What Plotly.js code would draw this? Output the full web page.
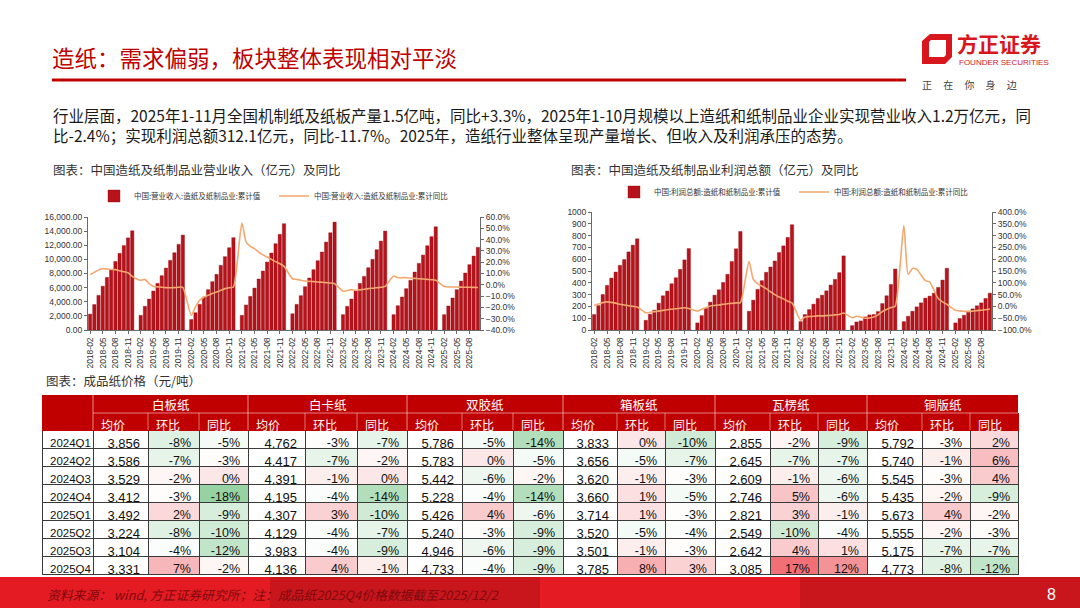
<!DOCTYPE html>
<html><head><meta charset="utf-8">
<script src="https://cdn.plot.ly/plotly-3.0.1.min.js"></script>
<style>html,body{margin:0;padding:0;background:#fff;}#chart{width:1080px;height:608px;}</style>
</head><body><div id="chart"></div>
<script>
// ---------------- DATA ----------------
const years = [2018, 2019, 2020, 2021, 2022, 2023, 2024, 2025];
// 营业收入 累计值（亿元），每年 2月..12月
const revenue2018 = [2250, 3600, 4900, 6200, 7450, 8550, 9700, 10850, 11950, 13050, 14050];
const revenue2019 = [2075, 3350, 4390, 5520, 6600, 7690, 8770, 9860, 10940, 12120, 13440];
const revenue2020 = [1480, 2450, 3630, 4670, 5710, 6840, 7880, 9150, 10380, 11650, 13070];
const revenue2021 = [2075, 3540, 4760, 5940, 7220, 8350, 9620, 10900, 12220, 13540, 15050];
const revenue2022 = [2300, 3630, 4860, 6130, 7360, 8540, 9810, 11040, 12450, 13770, 15280];
const revenue2023 = [2170, 3350, 4390, 5570, 6600, 7590, 8820, 10000, 11370, 12590, 14010];
const revenue2024 = [2170, 3440, 4670, 5850, 7030, 8210, 9430, 10610, 11930, 13210, 14620];
const revenue2025 = [2170, 3400, 4530, 5710, 6930, 8070, 9250, 10470, 11700];
// 营业收入 累计同比（%）
const revenueYoY2018 = [9.0, 11.0, 13.0, 14.3, 14.0, 13.6, 13.4, 12.5, 11.5, 10.7, 7.5];
const revenueYoY2019 = [4.0, 4.8, 1.0, -1.4, -1.8, -2.2, -2.5, -2.6, -2.5, -2.2, -2.2];
const revenueYoY2020 = [-27.0, -19.6, -13.7, -10.8, -9.3, -7.8, -6.4, -4.9, -3.4, -2.6, -2.0];
const revenueYoY2021 = [54.7, 37.9, 34.0, 32.0, 29.0, 26.5, 24.6, 22.5, 20.5, 18.7, 16.3];
const revenueYoY2022 = [5.4, 4.8, 4.0, 3.4, 3.0, 2.8, 2.5, 2.2, 1.9, 1.6, 1.0];
const revenueYoY2023 = [-5.7, -5.0, -4.3, -5.0, -4.5, -4.0, -3.4, -3.0, -2.6, -2.2, -1.4];
const revenueYoY2024 = [7.8, 6.3, 6.3, 6.3, 6.0, 5.7, 5.4, 5.1, 4.8, 4.5, 4.0];
const revenueYoY2025 = [-1.4, -1.8, -2.0, -2.0, -2.1, -2.2, -2.2, -2.3, -2.4];
// 利润总额 累计值（亿元）
const profit2018 = [131, 207, 301, 378, 440, 491, 548, 597, 662, 719, 773];
const profit2019 = [82, 134, 168, 227, 290, 330, 392, 443, 514, 594, 690];
const profit2020 = [60, 122, 182, 236, 295, 341, 403, 472, 580, 688, 835];
const profit2021 = [159, 253, 344, 418, 489, 534, 585, 656, 713, 784, 892];
const profit2022 = [71, 131, 173, 219, 267, 295, 332, 381, 429, 486, 628];
const profit2023 = [37, 68, 77, 111, 128, 131, 156, 224, 290, 386, 517];
const profit2024 = [71, 116, 159, 196, 230, 270, 287, 312, 361, 423, 523];
const profit2025 = [60, 97, 125, 151, 179, 205, 230, 267, 312];
// 利润总额 累计同比（%）
const profitYoY2018 = [4, 10, 16, 19, 17, 14, 9, 6, 3, 0, -3];
const profitYoY2019 = [-27, -25, -22, -20, -17, -14, -12, -10, -8, -6, -9];
const profitYoY2020 = [-20, -12, -5, 2, 4, 6, 9, 11, 13, 15, 16];
const profitYoY2021 = [190, 115, 97, 86, 75, 62, 50, 40, 32, 22, 15];
const profitYoY2022 = [-59, -45, -43, -42, -40, -40, -39, -38, -36, -34, -28];
const profitYoY2023 = [-48, -42, -45, -50, -49, -45, -36, -22, -13, -5, 1];
const profitYoY2024 = [343, 136, 161, 158, 133, 109, 104, 69, 33, 19, 9];
const profitYoY2025 = [-16, -19, -21, -21, -20, -18, -16, -14, -11.7];

// 成品纸价格表
const quarters = ['2024Q1','2024Q2','2024Q3','2024Q4','2025Q1','2025Q2','2025Q3','2025Q4'];
const paperNames = ['白板纸','白卡纸','双胶纸','箱板纸','瓦楞纸','铜版纸'];
const subHeads = ['均价','环比','同比'];
const whiteboardPrice = [3856, 3586, 3529, 3412, 3492, 3224, 3104, 3331];
const whiteboardQoQ   = [-8, -7, -2, -3, 2, -8, -4, 7];
const whiteboardYoY   = [-5, -3, 0, -18, -9, -10, -12, -2];
const ivoryPrice = [4762, 4417, 4391, 4195, 4307, 4129, 3983, 4136];
const ivoryQoQ   = [-3, -7, -1, -4, 3, -4, -4, 4];
const ivoryYoY   = [-7, -2, 0, -14, -10, -7, -9, -1];
const offsetPrice = [5786, 5783, 5442, 5228, 5426, 5240, 4946, 4733];
const offsetQoQ   = [-5, 0, -6, -4, 4, -3, -6, -4];
const offsetYoY   = [-14, -5, -2, -14, -6, -9, -9, -9];
const containerPrice = [3833, 3656, 3620, 3660, 3714, 3520, 3501, 3785];
const containerQoQ   = [0, -5, -1, 1, 1, -5, -1, 8];
const containerYoY   = [-10, -7, -3, -5, -3, -4, -3, 3];
const corrugatedPrice = [2855, 2645, 2609, 2746, 2821, 2549, 2642, 3085];
const corrugatedQoQ   = [-2, -7, -1, 5, 3, -10, 4, 17];
const corrugatedYoY   = [-9, -7, -6, -6, -1, -4, 1, 12];
const coatedPrice = [5792, 5740, 5545, 5435, 5673, 5555, 5175, 4773];
const coatedQoQ   = [-3, -1, -3, -2, 4, -2, -7, -8];
const coatedYoY   = [2, 6, 4, -9, -2, -3, -7, -12];

// ---------------- HELPERS ----------------
const W = 1080, H = 608;
const px = x => x / W, py = y => 1 - y / H;
const CJK = '"Noto Sans CJK SC", "Noto Sans", sans-serif';
const LAT = '"Liberation Sans", Arial, sans-serif';
const RED = '#C00000';

function buildSeries(yearArrays) {
  const cats = [], vals = [];
  years.forEach((yr, yi) => {
    for (let m = 1; m <= 12; m++) {
      if (yr === 2018 && m === 1) continue;
      if (yr === 2025 && m > 10) break;
      cats.push(yr + '-' + String(m).padStart(2, '0'));
      vals.push(m === 1 ? null : (yearArrays[yi][m - 2] ?? null));
    }
  });
  return {cats, vals};
}
const rev = buildSeries([revenue2018, revenue2019, revenue2020, revenue2021, revenue2022, revenue2023, revenue2024, revenue2025]);
const revY = buildSeries([revenueYoY2018, revenueYoY2019, revenueYoY2020, revenueYoY2021, revenueYoY2022, revenueYoY2023, revenueYoY2024, revenueYoY2025]);
const pro = buildSeries([profit2018, profit2019, profit2020, profit2021, profit2022, profit2023, profit2024, profit2025]);
const proY = buildSeries([profitYoY2018, profitYoY2019, profitYoY2020, profitYoY2021, profitYoY2022, profitYoY2023, profitYoY2024, profitYoY2025]);
const cats = rev.cats;
const tickCats = cats.filter((c, i) => i % 3 === 0);

const BAR = '#B8121B', LINE = '#F2A86E';
const traces = [
  {type:'bar', x:cats, y:rev.vals, name:'中国:营业收入:造纸及纸制品业:累计值', marker:{color:BAR, line:{color:'#8E0A10', width:0.4}}, xaxis:'x', yaxis:'y', legend:'legend'},
  {type:'scatter', mode:'lines', x:cats, y:revY.vals, name:'中国:营业收入:造纸及纸制品业:累计同比', connectgaps:true, line:{color:LINE, width:1.6, shape:'spline', smoothing:0.6}, xaxis:'x', yaxis:'y2', legend:'legend'},
  {type:'bar', x:cats, y:pro.vals, name:'中国:利润总额:造纸和纸制品业:累计值', marker:{color:BAR, line:{color:'#8E0A10', width:0.4}}, xaxis:'x2', yaxis:'y3', legend:'legend2'},
  {type:'scatter', mode:'lines', x:cats, y:proY.vals, name:'中国:利润总额:造纸和纸制品业:累计同比', connectgaps:true, line:{color:LINE, width:1.6, shape:'spline', smoothing:0.6}, xaxis:'x2', yaxis:'y4', legend:'legend2'}
];

// ---------------- TABLE ----------------
const priceCols = [whiteboardPrice, ivoryPrice, offsetPrice, containerPrice, corrugatedPrice, coatedPrice];
const qoqCols = [whiteboardQoQ, ivoryQoQ, offsetQoQ, containerQoQ, corrugatedQoQ, coatedQoQ];
const yoyCols = [whiteboardYoY, ivoryYoY, offsetYoY, containerYoY, corrugatedYoY, coatedYoY];
const allPct = [].concat(...qoqCols, ...yoyCols).slice().sort((a, b) => a - b);
const midV = (allPct[allPct.length / 2 - 1] + allPct[allPct.length / 2]) / 2;
const minV = allPct[0], maxV = allPct[allPct.length - 1];
function mix(c1, c2, t) {
  t = Math.max(0, Math.min(1, t));
  return 'rgb(' + c1.map((v, i) => Math.round(v + (c2[i] - v) * t)).join(',') + ')';
}
const WHITE = [255,255,255], GREEN = [150,210,162], PINK = [240,112,118];
function heat(v) {
  if (v >= midV) return mix(WHITE, PINK, (v - midV) / (maxV - midV));
  return mix(WHITE, GREEN, (midV - v) / (midV - minV));
}
const fmtPrice = v => v.toLocaleString('en-US');
const fmtPct = v => v + '%';

const colW = [51, 55,51,49, 57,52,50, 55,51,50, 54,48,50, 55,48,49, 55,48,48];
const tblX0 = 42, tblX1 = 1018;
const colScale = (tblX1 - tblX0) / colW.reduce((a, b) => a + b, 0);
const colEdges = [tblX0];
colW.forEach(w => colEdges.push(colEdges[colEdges.length - 1] + w * colScale));

const cellVals = [quarters], cellFill = [quarters.map(() => '#fff')], cellAlign = ['left'];
const cellSizes = [11.5];
const headVals = [''];
paperNames.forEach((n, k) => {
  cellVals.push(priceCols[k].map(fmtPrice), qoqCols[k].map(fmtPct), yoyCols[k].map(fmtPct));
  cellFill.push(quarters.map(() => '#fff'), qoqCols[k].map(heat), yoyCols[k].map(heat));
  cellAlign.push('right', 'right', 'right');
  cellSizes.push(13, 12.5, 12.5);
  headVals.push(...subHeads);
});
traces.push({
  type:'table',
  domain:{x:[px(tblX0), px(tblX1)], y:[py(576), py(413)]},
  columnwidth: colW,
  header:{values: headVals, fill:{color:RED}, line:{color:RED, width:1}, align:'left', height:17,
          font:{family:CJK, size:12, color:'#ffffff'}},
  cells:{values: cellVals, fill:{color: cellFill}, line:{color:'#3a3a3a', width:1}, align: cellAlign, height:18,
         font:{family:LAT, size:cellSizes, color:'#111'}}
});

// ---------------- LAYOUT DECOR ----------------
const shapes = [], annotations = [];
function rect(x0, y0, x1, y1, color) {
  shapes.push({type:'rect', xref:'paper', yref:'paper', x0:px(x0), x1:px(x1), y0:py(y1), y1:py(y0), fillcolor:color, line:{width:0}});
}
function hline(x0, x1, y, color, w) {
  shapes.push({type:'line', xref:'paper', yref:'paper', x0:px(x0), x1:px(x1), y0:py(y), y1:py(y), line:{color, width:w}});
}
function vline(x, y0, y1, color, w) {
  shapes.push({type:'line', xref:'paper', yref:'paper', x0:px(x), x1:px(x), y0:py(y0), y1:py(y1), line:{color, width:w}});
}
function text(t, x, y, size, color, opts = {}) {
  annotations.push(Object.assign({xref:'paper', yref:'paper', x:px(x), y:py(y), text:t, showarrow:false,
    xanchor:'left', yanchor:'middle', font:{family:CJK, size, color}}, opts));
}
function pathPts(pts) {
  return 'M' + pts.map(p => px(p[0]) + ',' + py(p[1])).join('L') + 'Z';
}

// title + rule
text('造纸：需求偏弱，板块整体表现相对平淡', 50, 57, 22.5, RED);
hline(52, 906, 80, RED, 3);
// logo
shapes.push({type:'path', xref:'paper', yref:'paper', fillcolor:'#D7161E', line:{width:0}, fillrule:'evenodd',
  path: pathPts([[930,34],[952,34],[952,57],[945,64],[922,64],[922,41]]) + ' ' + pathPts([[929,42],[931,40],[946,40],[946,55],[944,57],[929,57]])});
text('方正证券', 955, 43, 21, '#D7161E', {font:{family:CJK, size:21, color:'#D7161E', weight:'bold'}});
text('FOUNDER SECURITIES', 957, 62, 8, '#D7161E', {font:{family:LAT, size:8, color:'#D7161E'}});
text('正&nbsp;&nbsp;&nbsp;&nbsp;&nbsp;在&nbsp;&nbsp;&nbsp;&nbsp;&nbsp;你&nbsp;&nbsp;&nbsp;&nbsp;&nbsp;身&nbsp;&nbsp;&nbsp;&nbsp;&nbsp;边', 920, 85, 10, '#444');

// paragraph
text('行业层面，2025年1-11月全国机制纸及纸板产量1.5亿吨，同比+3.3%，2025年1-10月规模以上造纸和纸制品业企业实现营业收入1.2万亿元，同', 51, 115, 15.5, '#1a1a1a');
text('比-2.4%；实现利润总额312.1亿元，同比-11.7%。2025年，造纸行业整体呈现产量增长、但收入及利润承压的态势。', 51, 135, 15.5, '#1a1a1a');

// captions
text('图表：中国造纸及纸制品业营业收入（亿元）及同比', 51, 170, 12.5, '#333');
text('图表：中国造纸及纸制品业利润总额（亿元）及同比', 569, 170, 12.5, '#333');
text('图表：成品纸价格（元/吨）', 44, 380, 12.5, '#333');

// table group header row
rect(tblX0, 395, tblX1, 413.5, RED);
paperNames.forEach((n, k) => {
  const a = colEdges[1 + 3 * k], b = colEdges[4 + 3 * k];
  annotations.push({xref:'paper', yref:'paper', x:px((a + b) / 2), y:py(404), text:n, showarrow:false,
    xanchor:'center', yanchor:'middle', font:{family:CJK, size:12.5, color:'#fff'}});
  vline(a, 395, 430, 'rgba(255,255,255,0.55)', 1);
});
hline(colEdges[1], tblX1, 413, 'rgba(255,255,255,0.5)', 1);
colEdges.slice(1, -1).forEach((e, i) => { if (i % 3 !== 0) vline(e, 413, 430, 'rgba(255,255,255,0.45)', 1); });

// footer
rect(0, 577, 1080, 608, '#E41B22');
rect(270, 577, 540, 608, '#C9151C');
rect(800, 577, 1080, 608, '#C9151C');
text('资料来源： wind, 方正证券研究所；注：成品纸2025Q4价格数据截至2025/12/2', 45, 594, 12.8, '#7E0A0E', {font:{family:CJK, size:12.8, color:'#7E0A0E', style:'italic'}});
text('8', 1045, 594, 16, '#ffffff', {font:{family:LAT, size:16, color:'#fff'}});

// ---------------- AXES ----------------
const tickFont = {family:LAT, size:8.5, color:'#333'};
const axLine = '#6b6b6b';
const xCommon = {type:'category', tickmode:'array', tickvals:tickCats, ticktext:tickCats, tickangle:-90,
  tickfont:tickFont, showgrid:false, zeroline:false, showline:true, linecolor:axLine, ticks:'outside', ticklen:3, tickcolor:axLine,
  fixedrange:true};
const yCommon = {showgrid:false, zeroline:false, showline:true, linecolor:axLine, ticks:'outside', ticklen:3, tickcolor:axLine, tickfont:tickFont};

const layout = {
  width:W, height:H, margin:{l:0, r:0, t:0, b:0}, paper_bgcolor:'#fff', plot_bgcolor:'rgba(0,0,0,0)',
  showlegend:true, bargap:0.22,
  xaxis: Object.assign({}, xCommon, {domain:[px(88), px(480)], anchor:'y'}),
  yaxis: Object.assign({}, yCommon, {domain:[py(330), py(217)], range:[0, 16000], dtick:2000, tickformat:',.2f', anchor:'x'}),
  yaxis2: Object.assign({}, yCommon, {overlaying:'y', side:'right', anchor:'x', range:[-40, 60], dtick:10, tickformat:'.1f', ticksuffix:'%'}),
  xaxis2: Object.assign({}, xCommon, {domain:[px(592), px(992)], anchor:'y3'}),
  yaxis3: Object.assign({}, yCommon, {domain:[py(330), py(212)], range:[0, 1000], dtick:100, anchor:'x2'}),
  yaxis4: Object.assign({}, yCommon, {overlaying:'y3', side:'right', anchor:'x2', range:[-100, 400], dtick:50, tickformat:'.1f', ticksuffix:'%'}),
  legend: {orientation:'h', x:px(94), y:py(196), xanchor:'left', yanchor:'middle', font:{family:CJK, size:7.5, color:'#333'},
    bgcolor:'rgba(0,0,0,0)', entrywidth:135, entrywidthmode:'pixels', itemwidth:30},
  legend2: {orientation:'h', x:px(614), y:py(192), xanchor:'left', yanchor:'middle', font:{family:CJK, size:7.5, color:'#333'},
    bgcolor:'rgba(0,0,0,0)', entrywidth:135, entrywidthmode:'pixels', itemwidth:30},
  shapes, annotations
};

Plotly.newPlot('chart', traces, layout, {staticPlot:true, displayModeBar:false});
</script></body></html>
